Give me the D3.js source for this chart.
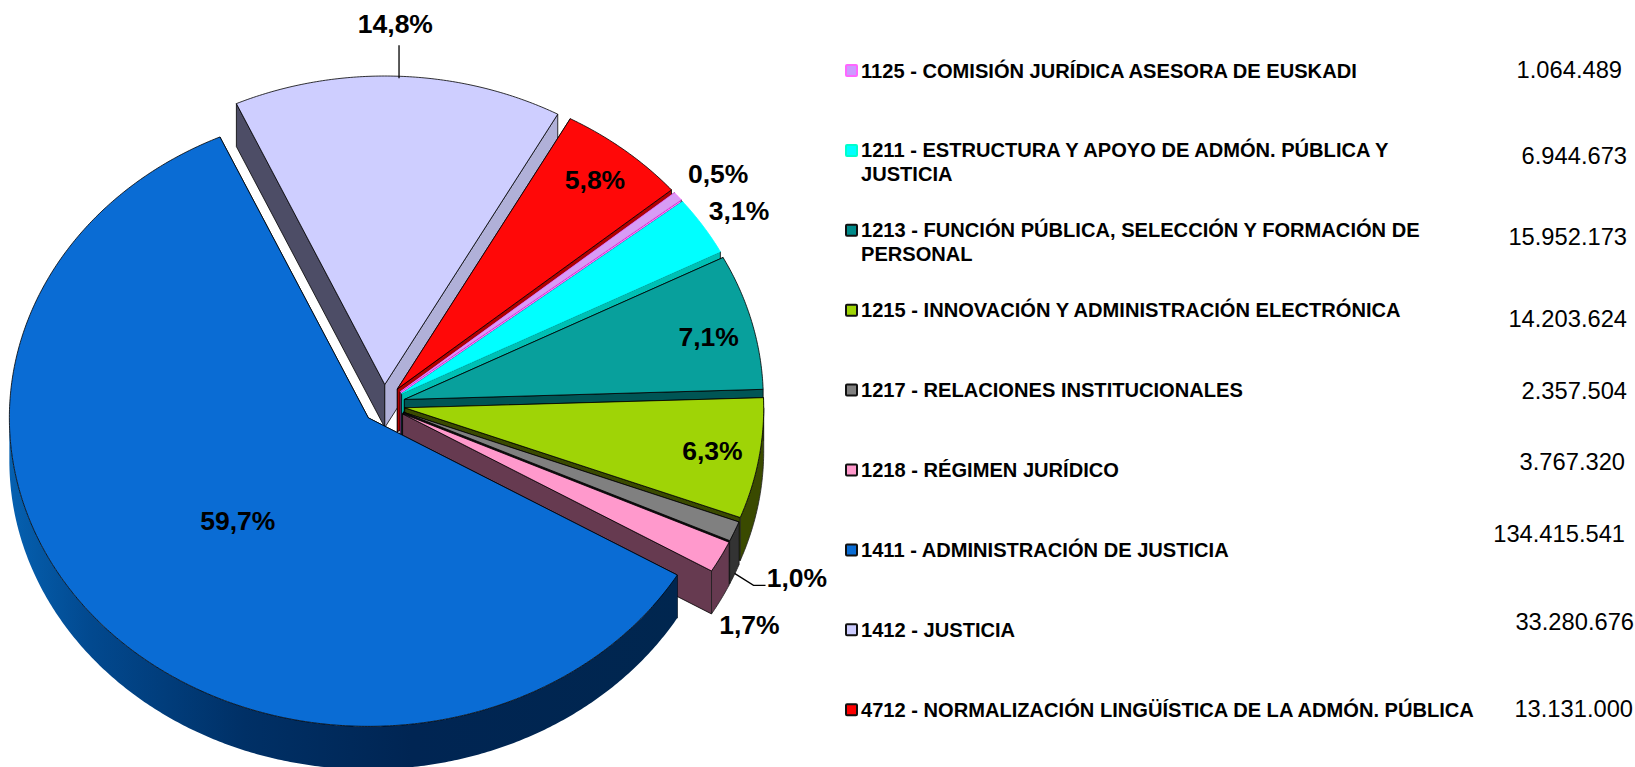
<!DOCTYPE html>
<html>
<head>
<meta charset="utf-8">
<script src="https://cdn.jsdelivr.net/npm/d3@7/dist/d3.min.js"></script>
<style>
html,body{margin:0;padding:0;background:#fff;overflow:hidden}
svg{display:block}
text{font-family:"Liberation Sans",Arial,sans-serif;fill:#000}
</style>
</head>
<body>
<svg id="chart" width="1635" height="767"></svg>
<script>
// ---- data ----
const categories = [
  "1125 - COMISIÓN JURÍDICA ASESORA DE EUSKADI",
  "1211 - ESTRUCTURA Y APOYO DE ADMÓN. PÚBLICA Y\nJUSTICIA",
  "1213 - FUNCIÓN PÚBLICA, SELECCIÓN Y FORMACIÓN DE\nPERSONAL",
  "1215 - INNOVACIÓN Y ADMINISTRACIÓN ELECTRÓNICA",
  "1217 - RELACIONES INSTITUCIONALES",
  "1218 - RÉGIMEN JURÍDICO",
  "1411 - ADMINISTRACIÓN DE JUSTICIA",
  "1412 - JUSTICIA",
  "4712 - NORMALIZACIÓN LINGÜÍSTICA DE LA ADMÓN. PÚBLICA"
];
const amounts = [1064489, 6944673, 15952173, 14203624, 2357504, 3767320, 134415541, 33280676, 13131000];

// ---- styles ----
const topColors   = ["#d79cf5", "#00ffff", "#08a09c", "#9fd406", "#808080", "#ff99cc", "#0a6cd4", "#ceceff", "#ff0808"];
const edgeColors  = ["#ff66ff", "#00ffff", "#000", "#000", "#000", "#000", "#000", "#000", "#000"];
const startWalls  = ["#ff66ff", "#00c8c0", "#004f4f", "#3a4a00", "#222", "#663a50", "#002a5e", "#4d4d66", "#a00000"];
const endWalls    = ["#ff66ff", "#00c0b4", "#005555", "#3a4a00", "#111", "#663a50", "#002a5e", "#b0b0d8", "#b00000"];
const outerWalls  = ["#ff66ff", "#00c0b4", "#005555", "#3a4a00", "#333", "#663a50", "url(#blueWall)", "#b0b0d8", "#a00000"];
const swatchFills = ["#cc99ff", "#00ffff", "#008a8a", "#9fd406", "#808080", "#ff99cc", "#0a6cd4", "#ccccff", "#ff0000"];
const swatchEdges = ["#ff66ff", "#00ffcc", "#111", "#111", "#111", "#111", "#111", "#111", "#111"];

// ---- layout ----
const W = 1635, H = 767;
const cx = 384, cy = 404.5, rx = 359, ry = 308.5, depth = 43;
const explodeX = 21, explodeY = 20;
const firstAngle = 49.8 * Math.PI / 180;
const labelRadius = [1.14, 1.115, 0.872, 0.876, 1.196, 1.098, 0.5, 1.171, 0.865];
const labelShift  = [[1.5,5],[1.5,4],[1.5,6],[-2.5,-1],[-2.5,23],[-2.5,54],[3,0],[-5.5,0],[1,-3]];
const valueRight  = [1622, 1627, 1627, 1627, 1627, 1625, 1625, 1634, 1633];
const valueMiddle = [69.5, 156, 237, 319, 391, 461.5, 534, 622, 708.5];
const legendTop = 70.5, legendStep = 79.9, swatchX = 845, textX = 861, lineGap = 23.5;

const svg = d3.select("#chart");
const defs = svg.append("defs");
const grad = defs.append("linearGradient").attr("id", "blueWall")
  .attr("gradientUnits", "userSpaceOnUse").attr("x1", 10).attr("x2", 680).attr("y1", 0).attr("y2", 0);
[[0, "#0560b0"], [0.12, "#02498f"], [0.35, "#003066"], [0.6, "#002553"], [1, "#00264f"]]
  .forEach(s => grad.append("stop").attr("offset", s[0]).attr("stop-color", s[1]));

const total = d3.sum(amounts);
const pie = d3.pie().sort(null).startAngle(firstAngle).endAngle(firstAngle + 2 * Math.PI);
const arcs = pie(amounts).map((a, i) => {
  const mid = (a.startAngle + a.endAngle) / 2;
  return {...a, i, mid, ax: cx + explodeX * Math.sin(mid), ay: cy - explodeY * Math.cos(mid)};
});
const rimPoint = (s, a, k = 1, drop = 0) => [s.ax + k * rx * Math.sin(a), s.ay - k * ry * Math.cos(a) + drop];
const sample = (from, to) => {
  const n = Math.max(2, Math.ceil(Math.abs(to - from) / (Math.PI / 360)));
  return d3.range(n + 1).map(j => from + (to - from) * j / n);
};
const poly = d3.line().curve(d3.curveLinearClosed);

const pieG = svg.append("g").attr("stroke-width", 0.8).attr("stroke-linejoin", "round");
const drawOrder = [7, 8, 0, 1, 2, 3, 4, 5, 6];
drawOrder.forEach(idx => {
  const s = arcs[idx];
  const g = pieG.append("g");
  const wall = a => [[s.ax, s.ay], rimPoint(s, a), rimPoint(s, a, 1, depth), [s.ax, s.ay + depth]];
  g.append("path").attr("d", poly(wall(s.startAngle))).attr("fill", startWalls[idx]).attr("stroke", "#000");
  g.append("path").attr("d", poly(wall(s.endAngle))).attr("fill", endWalls[idx]).attr("stroke", "#000");
  const a0 = Math.max(s.startAngle, Math.PI / 2), a1 = Math.min(s.endAngle, 3 * Math.PI / 2);
  if (a1 > a0) {
    const angles = sample(a0, a1);
    const pts = angles.map(a => rimPoint(s, a)).concat(angles.slice().reverse().map(a => rimPoint(s, a, 1, depth)));
    g.append("path").attr("d", poly(pts)).attr("fill", outerWalls[idx]).attr("stroke", idx === 6 ? "none" : "#222");
  }
  const topPts = [[s.ax, s.ay]].concat(sample(s.startAngle, s.endAngle).map(a => rimPoint(s, a)));
  g.append("path").attr("d", poly(topPts)).attr("fill", topColors[idx]).attr("stroke", edgeColors[idx]);
});

// leader lines, anchored on the rim of their slice
const leaderLine = d3.line();
const rimTop = rimPoint(arcs[7], arcs[7].mid);
svg.append("path").attr("fill", "none").attr("stroke", "#000").attr("stroke-width", 1.3)
  .attr("d", leaderLine([[rimTop[0] + 0.5, rimTop[1] + 2], [rimTop[0] + 0.5, rimTop[1] - 31]]));
const rimLow = rimPoint(arcs[4], arcs[4].mid, 1, depth - 1);
svg.append("path").attr("fill", "none").attr("stroke", "#000").attr("stroke-width", 1.3)
  .attr("d", leaderLine([rimLow, [rimLow[0] + 19, rimLow[1] + 12], [rimLow[0] + 31, rimLow[1] + 12]]));

// percentage labels
svg.append("g").selectAll("text").data(arcs).join("text")
  .attr("x", d => rimPoint(d, d.mid, labelRadius[d.i])[0] + labelShift[d.i][0])
  .attr("y", d => rimPoint(d, d.mid, labelRadius[d.i])[1] + labelShift[d.i][1])
  .attr("text-anchor", "middle").attr("dominant-baseline", "central")
  .attr("font-size", 26.5).attr("font-weight", "bold")
  .text(d => (d.value / total * 100).toFixed(1).replace(".", ",") + "%");

// legend
const rowY = d3.scaleLinear().domain([0, 1]).range([legendTop, legendTop + legendStep]);
const legend = svg.append("g").selectAll("g").data(categories).join("g");
legend.append("rect")
  .attr("x", swatchX + 1).attr("y", (d, i) => rowY(i) - 5.5).attr("width", 11).attr("height", 11)
  .attr("rx", 1).attr("fill", (d, i) => swatchFills[i]).attr("stroke", (d, i) => swatchEdges[i]).attr("stroke-width", 2);
legend.each(function (d, i) {
  d.split("\n").forEach((line, j) => {
    d3.select(this).append("text")
      .attr("x", textX).attr("y", rowY(i) + j * lineGap)
      .attr("dominant-baseline", "central")
      .attr("font-size", 20.1).attr("font-weight", "bold").text(line);
  });
});

// amounts
const es = d3.formatLocale({decimal: ",", thousands: ".", grouping: [3], currency: ["", ""]});
svg.append("g").selectAll("text").data(amounts).join("text")
  .attr("x", (d, i) => valueRight[i]).attr("y", (d, i) => valueMiddle[i])
  .attr("text-anchor", "end").attr("dominant-baseline", "central")
  .attr("font-size", 23.7).text(es.format(",d"));
</script>
</body>
</html>
